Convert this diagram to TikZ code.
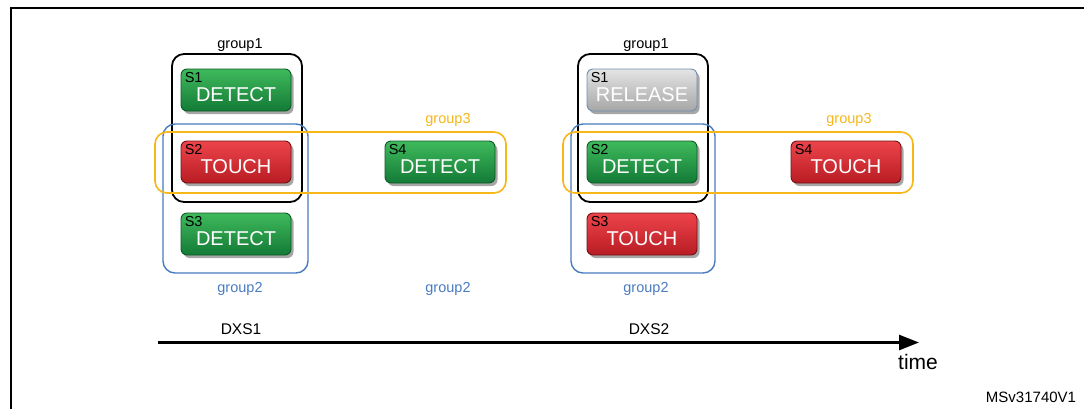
\documentclass[tikz,border=0pt]{standalone}
\usepackage{fontspec}
\setmainfont{Liberation Sans}
\usetikzlibrary{arrows.meta,shadows}
\definecolor{gA}{HTML}{3FBA5C}
\definecolor{gB}{HTML}{1FA249}
\definecolor{gC}{HTML}{137A36}
\definecolor{gE}{HTML}{0E5A26}
\definecolor{rA}{HTML}{EE444B}
\definecolor{rB}{HTML}{E42A31}
\definecolor{rC}{HTML}{B81C23}
\definecolor{rE}{HTML}{701216}
\definecolor{yA}{HTML}{E4E4E4}
\definecolor{yB}{HTML}{C6C6C6}
\definecolor{yC}{HTML}{A6A6A6}
\definecolor{yE}{HTML}{6F8FB2}
\definecolor{grpblue}{HTML}{4A7CC0}
\definecolor{grpyel}{HTML}{F7B719}
\tikzset{
  btn/.style={rounded corners=6pt, minimum width=110pt, minimum height=42pt, inner sep=0pt,
    text height=22pt, text depth=0pt,
    line width=0.9pt, text=white, font=\fontsize{20}{22}\selectfont,
    drop shadow={shadow xshift=2.5pt, shadow yshift=-3pt, opacity=0.35, fill=black}},
  green/.style={btn, draw=gE, top color=gA, middle color=gB, bottom color=gC},
  red/.style={btn, draw=rE, top color=rA, middle color=rB, bottom color=rC},
  grey/.style={btn, draw=yE, top color=yA, middle color=yB, bottom color=yC, text=white},
  slbl/.style={anchor=north west, inner sep=0pt, font=\fontsize{14.5}{16}\selectfont, text=black},
  grpbox/.style={rounded corners=12pt, inner sep=0pt},
  g1box/.style={grpbox, draw=black, line width=1.8pt},
  g2box/.style={grpbox, draw=grpblue, line width=1.4pt},
  g3box/.style={grpbox, draw=grpyel, line width=1.6pt},
  glbl/.style={inner sep=0pt, font=\fontsize{14.5}{16}\selectfont},
  axlbl/.style={inner sep=0pt, font=\fontsize{15.5}{17}\selectfont},
}
\begin{document}
\begin{tikzpicture}[x=1pt,y=-1pt]
\useasboundingbox (0,0) rectangle (1084,408);
\fill[white] (0,0) rectangle (1084,408);
% frame
\coordinate (fa) at (10.5,410);
\coordinate (fb) at (10.5,7.5);
\coordinate (fc) at (1086,7.5);
\draw[line width=2pt] (fa) -- (fb) -- (fc);

% ---- DXS1 ----
\node[green] (a1) at (236,90) {DETECT};
\node[red]   (a2) at (236,162) {TOUCH};
\node[green] (a3) at (236,234) {DETECT};
\node[green] (a4) at (440,162) {DETECT};
\node[slbl] (la1) at ([xshift=4pt,yshift=-4pt]a1.north west) {S1};
\node[slbl] (la2) at ([xshift=4pt,yshift=-4pt]a2.north west) {S2};
\node[slbl] (la3) at ([xshift=4pt,yshift=-4pt]a3.north west) {S3};
\node[slbl] (la4) at ([xshift=4pt,yshift=-4pt]a4.north west) {S4};

\node[g1box, minimum width=130pt, minimum height=148pt] (ga1) at (237,128) {};
\node[g2box, minimum width=145pt, minimum height=149pt] (ga2) at (235.5,198.5) {};
\node[g3box, minimum width=351pt, minimum height=61pt] (ga3) at (330.5,162.5) {};

\node[glbl] (ta1) at (240,45) {group1};
\node[glbl, text=grpyel] (ta3) at (448,120) {group3};
\node[glbl, text=grpblue] (ta2) at (240,289) {group2};
\node[glbl, text=grpblue] (ta2b) at (448,289) {group2};

% ---- DXS2 ----
\node[grey]  (b1) at (642,90) {RELEASE};
\node[green] (b2) at (642,162) {DETECT};
\node[red]   (b3) at (642,234) {TOUCH};
\node[red]   (b4) at (846,162) {TOUCH};
\node[slbl] (lb1) at ([xshift=4pt,yshift=-4pt]b1.north west) {S1};
\node[slbl] (lb2) at ([xshift=4pt,yshift=-4pt]b2.north west) {S2};
\node[slbl] (lb3) at ([xshift=4pt,yshift=-4pt]b3.north west) {S3};
\node[slbl] (lb4) at ([xshift=4pt,yshift=-4pt]b4.north west) {S4};

\node[g1box, minimum width=130pt, minimum height=148pt] (gb1) at (643,128) {};
\node[g2box, minimum width=144pt, minimum height=149pt] (gb2) at (643,198.5) {};
\node[g3box, minimum width=350pt, minimum height=61pt] (gb3) at (738,162.5) {};

\node[glbl] (tb1) at (646,45) {group1};
\node[glbl, text=grpyel] (tb3) at (849,120) {group3};
\node[glbl, text=grpblue] (tb2) at (646,289) {group2};

% ---- time axis ----
\coordinate (ts) at (158,342.5);
\coordinate (te) at (919,342.5);
\draw[line width=2.7pt, -{Triangle[length=20pt,width=15pt]}] (ts) -- (te);
\node[axlbl] (d1) at (241,329) {DXS1};
\node[axlbl] (d2) at (649,329) {DXS2};
\node[inner sep=0pt, font=\fontsize{21}{23}\selectfont] (tm) at (918,362) {time};
\node[inner sep=0pt, font=\fontsize{15}{17}\selectfont] (ms) at (1031,397) {MSv31740V1};
\end{tikzpicture}
\end{document}
